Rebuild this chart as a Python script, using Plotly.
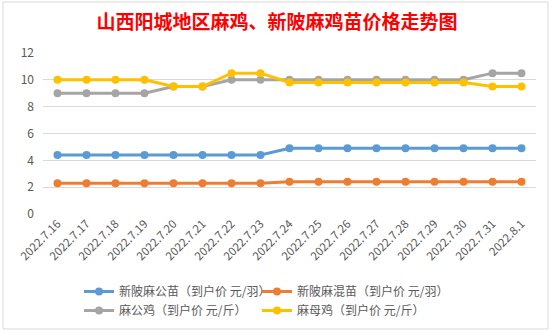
import plotly.graph_objects as go

dates = ["2022.7.16", "2022.7.17", "2022.7.18", "2022.7.19", "2022.7.20", "2022.7.21",
         "2022.7.22", "2022.7.23", "2022.7.24", "2022.7.25", "2022.7.26", "2022.7.27",
         "2022.7.28", "2022.7.29", "2022.7.30", "2022.7.31", "2022.8.1"]

xinling_gongmiao = [4.4, 4.4, 4.4, 4.4, 4.4, 4.4, 4.4, 4.4, 4.9, 4.9, 4.9, 4.9, 4.9, 4.9, 4.9, 4.9, 4.9]
xinling_hunmiao = [2.3, 2.3, 2.3, 2.3, 2.3, 2.3, 2.3, 2.3, 2.4, 2.4, 2.4, 2.4, 2.4, 2.4, 2.4, 2.4, 2.4]
ma_gongji = [9, 9, 9, 9, 9.5, 9.5, 10, 10, 10, 10, 10, 10, 10, 10, 10, 10.5, 10.5]
ma_muji = [10, 10, 10, 10, 9.5, 9.5, 10.5, 10.5, 9.8, 9.8, 9.8, 9.8, 9.8, 9.8, 9.8, 9.5, 9.5]

series_names = ["新陂麻公苗（到户价 元/羽）", "新陂麻混苗（到户价 元/羽）",
                "麻公鸡（到户价 元/斤）", "麻母鸡（到户价 元/斤）"]
series_values = [xinling_gongmiao, xinling_hunmiao, ma_gongji, ma_muji]
colors = ["#5B9BD5", "#ED7D31", "#A5A5A5", "#FFC000"]

y_ticks = [0, 2, 4, 6, 8, 10, 12]

FONT = "Noto Sans CJK SC"
W, H = 554, 334
L, R, T, B = 43, 18, 53, 120

# legend slots: (left px, top px) for a 2x2 grid of single-entry legends
legend_ids = ["legend", "legend2", "legend3", "legend4"]
legend_pos = [(79, 277), (257, 277), (79, 296), (257, 296)]

fig = go.Figure()
for name, vals, c, lg in zip(series_names, series_values, colors, legend_ids):
    fig.add_trace(go.Scatter(
        x=list(range(len(dates))), y=vals, name=name, mode="lines+markers",
        line=dict(color=c, width=3), marker=dict(color=c, size=8), legend=lg,
        showlegend=True,
    ))

pw, ph = W - L - R, H - T - B
def px2paper_x(px):
    return (px - L) / pw
def px2paper_y(py):
    return (H - B - py) / ph

legends = {}
for lg, (lx, ty) in zip(legend_ids, legend_pos):
    legends[lg] = dict(orientation="h", x=lx / W, xanchor="left", xref="container",
                       y=1 - ty / H, yanchor="top", yref="container",
                       font=dict(family=FONT, size=12, color="#595959"),
                       bgcolor="rgba(0,0,0,0)", visible=True)

fig.update_layout(
    width=W, height=H, showlegend=True,
    margin=dict(l=L, r=R, t=T, b=B),
    paper_bgcolor="white", plot_bgcolor="white",
    font=dict(family=FONT, color="#595959", size=11),
    title=dict(text="山西阳城地区麻鸡、新陂麻鸡苗价格走势图",
               font=dict(family=FONT, size=19, color="#FF0000", weight="bold"),
               x=0.5, xanchor="center", xref="container",
               y=1 - 22 / H, yanchor="middle", yref="container"),
    xaxis=dict(range=[-0.5, len(dates) - 0.5], tickmode="array",
               tickvals=list(range(len(dates))), ticktext=dates, tickangle=-45,
               showgrid=False, zeroline=False, showline=False, ticks="",
               automargin=False,
               tickfont=dict(size=11.5, color="#595959")),
    yaxis=dict(range=[0, 12], tickmode="array", tickvals=y_ticks,
               showgrid=True, gridcolor="#D9D9D9", gridwidth=1, zeroline=False,
               showline=False, ticks="", ticklabelstandoff=8, automargin=False,
               tickfont=dict(size=12, color="#595959")),
    shapes=[dict(type="rect", xref="paper", yref="paper",
                 x0=px2paper_x(3), x1=px2paper_x(548),
                 y0=px2paper_y(329), y1=px2paper_y(2),
                 line=dict(color="#D9D9D9", width=1), layer="below")],
    **legends,
)

fig.write_html("out.html")
